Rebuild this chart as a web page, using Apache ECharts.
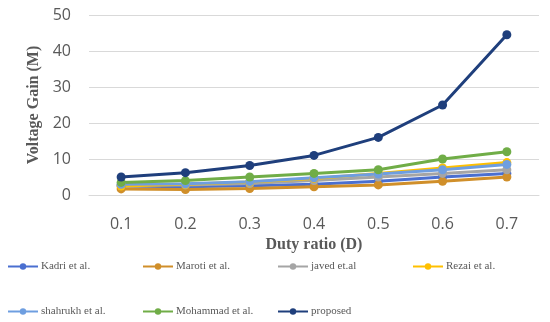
<!DOCTYPE html>
<html><head><meta charset="utf-8">
<script src="https://cdn.jsdelivr.net/npm/echarts@6/dist/echarts.min.js"></script>
<style>html,body{margin:0;padding:0;background:#fff}#c{width:550px;height:322px}</style>
</head><body><div id="c"></div>
<script>
const categories = ['0.1','0.2','0.3','0.4','0.5','0.6','0.7'];
const seriesNames = ['Kadri et al.','Maroti et al.','javed et.al','Rezai et al.','shahrukh et al.','Mohammad et al.','proposed'];
const kadri    = [2.5, 2.3, 2.6, 3.0, 3.8, 5.0, 6.0];
const maroti   = [1.7, 1.5, 1.8, 2.3, 2.8, 3.8, 5.0];
const javed    = [2.8, 2.8, 3.2, 4.0, 5.0, 6.0, 7.0];
const rezai    = [2.5, 3.0, 3.6, 4.6, 6.0, 7.5, 9.0];
const shahrukh = [3.0, 3.1, 3.7, 4.8, 5.8, 7.0, 8.5];
const mohammad = [3.5, 4.0, 5.0, 6.0, 7.0, 10.0, 12.0];
const proposed = [5.0, 6.2, 8.2, 11.0, 16.0, 25.0, 44.5];
const yTicks = [0, 10, 20, 30, 40, 50];

const values = [kadri, maroti, javed, rezai, shahrukh, mohammad, proposed];
const colors = ['#4a6fd0','#d08f2a','#a5a5a5','#ffc000','#6e9ee0','#70ad47','#1f3f7c'];
const legendPos = [[7,261],[142,261],[277,261],[412,261],[7,306],[142,306],[277,306]];

const chart = echarts.init(document.getElementById('c'));
chart.setOption({
  animation:false,
  grid:{left:89,right:11,top:15,bottom:127},
  xAxis:{type:'category',data:categories,boundaryGap:true,
    axisLine:{lineStyle:{color:'#d9d9d9',width:1}},axisTick:{show:false},
    axisLabel:{color:'#595959',fontSize:16,fontFamily:'Open Sans',margin:21},
    name:'Duty ratio (D)',nameLocation:'middle',nameGap:37,
    nameTextStyle:{color:'#595959',fontSize:16,fontWeight:'bold',fontFamily:'Liberation Serif'}},
  yAxis:{type:'value',min:yTicks[0],max:yTicks[yTicks.length-1],interval:10,
    axisLine:{show:false},axisTick:{show:false},
    splitLine:{lineStyle:{color:'#d9d9d9',width:1}},
    axisLabel:{color:'#595959',fontSize:16,fontFamily:'Open Sans',margin:18},
    name:'Voltage Gain (M)',nameLocation:'middle',nameGap:42,
    nameTextStyle:{color:'#595959',fontSize:16,fontWeight:'bold',fontFamily:'Liberation Serif'}},
  legend: seriesNames.map((n,i)=>({data:[n],left:legendPos[i][0],top:legendPos[i][1],
    padding:0,itemWidth:30,itemHeight:8,itemGap:3,
    textStyle:{color:'#595959',fontSize:11,fontFamily:'Liberation Serif',padding:[0,0,0,-2]}})),
  series: seriesNames.map((n,i)=>({name:n,type:'line',data:values[i],
    symbol:'circle',symbolSize:9,
    lineStyle:{color:colors[i],width:3},
    itemStyle:{color:colors[i]}}))
});
</script></body></html>
